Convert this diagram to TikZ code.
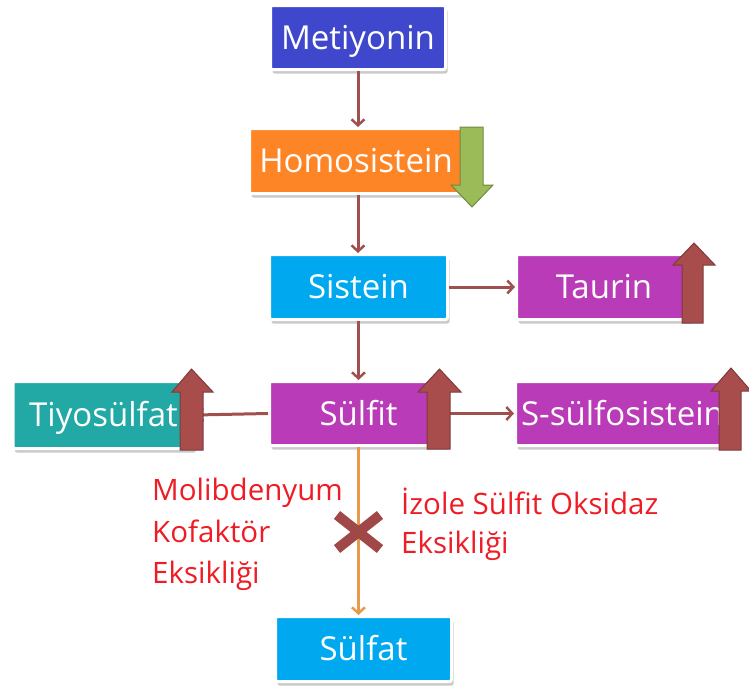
\documentclass[tikz,border=0pt]{standalone}
\usepackage{fontspec}
\setmainfont{Open Sans}
\usetikzlibrary{arrows.meta,shadows}
\definecolor{cMet}{HTML}{3F48CC}
\definecolor{cHomo}{HTML}{FD8526}
\definecolor{cBlue}{HTML}{00A8F0}
\definecolor{cPurp}{HTML}{B93BB8}
\definecolor{cTeal}{HTML}{22A9A5}
\definecolor{cConn}{HTML}{A0504F}
\definecolor{cOrangeLine}{HTML}{E89A4A}
\definecolor{cRedText}{HTML}{EE1C25}
\definecolor{cBlockRed}{HTML}{A84C4C}
\definecolor{cBlockRedEdge}{HTML}{7D3B3B}
\definecolor{cGreen}{HTML}{9BBB59}
\definecolor{cGreenEdge}{HTML}{71893F}
\definecolor{cX}{HTML}{A04848}
\begin{document}
\begin{tikzpicture}[x=1pt,y=-1pt,
  box/.style={draw=white, line width=3pt, rounded corners=2pt, text=white,
    font=\fontsize{33}{40}\selectfont, inner sep=0pt, text height=23.5pt, text depth=0pt,
    drop shadow={shadow xshift=2pt, shadow yshift=-4pt, opacity=0.35, fill=black!60}},
  conn/.style={draw=cConn, line width=3pt, -{Straight Barb[length=6pt,width=13pt,line width=2.5pt]}},
  oconn/.style={draw=cOrangeLine, line width=3pt, -{Straight Barb[length=6pt,width=13pt,line width=2.5pt]}},
  blockred/.style={fill=cBlockRed, draw=cBlockRedEdge, line width=1pt, line join=miter},
  blockgreen/.style={fill=cGreen, draw=cGreenEdge, line width=1pt, line join=miter},
  redtext/.style={text=cRedText, font=\fontsize{29.5}{36}\selectfont, inner sep=0pt, anchor=base west},
  xmark/.style={draw=cX, line width=10pt, line cap=butt}
]
\useasboundingbox (0,0) rectangle (749,688);

% boxes
\node[box, fill=cMet, minimum width=175pt, minimum height=64pt] (met) at (358,37.5) {Metiyonin};
\node[box, fill=cHomo, minimum width=213pt, minimum height=65pt] (homo) at (356,161) {Homosistein};
\node[box, fill=cBlue, minimum width=178pt, minimum height=65pt] (sis) at (358.5,287) {Sistein};
\node[box, fill=cPurp, minimum width=175pt, minimum height=65pt] (taurin) at (604,287) {Taurin};
\node[box, fill=cPurp, minimum width=178pt, minimum height=64pt] (sulfit) at (358.5,413.5) {Sülfit};
\node[box, fill=cTeal, minimum width=181pt, minimum height=67pt] (tiyo) at (103.5,415) {Tiyosülfat};
\node[box, fill=cPurp, minimum width=214pt, minimum height=64pt] (ssulfo) at (622.5,413.5) {S-sülfosistein};
\node[box, fill=cBlue, minimum width=176pt, minimum height=65pt] (sulfat) at (363.5,649) {Sülfat};

% connectors
\draw[conn] (met.south) -- (met.south |- homo.north);
\draw[conn] (homo.south -| met.south) -- (met.south |- sis.north);
\draw[conn] (sis.south) -- (sis.south |- sulfit.north);
\draw[conn] (sis.east) -- (taurin.west);
\draw[conn] (sulfit.west) -- (tiyo.east);
\draw[conn] (sulfit.east) -- (ssulfo.west);
\draw[oconn] (sulfit.south) -- (sulfit.south |- sulfat.north);

% cross mark
\draw[xmark] (337,515) -- (380,549);
\draw[xmark] (337,549) -- (380,515);

% red texts
\node[redtext] (mo1) at (152,500) {Molibdenyum};
\node[redtext] (mo2) at (152,542) {Kofaktör};
\node[redtext] (mo3) at (152,583) {Eksikliği};
\node[redtext] (iz1) at (401,514) {İzole Sülfit Oksidaz};
\node[redtext] (iz2) at (401,553) {Eksikliği};

% block arrows
\draw[blockgreen] (460,127) -- (460,185) -- (451,185) -- (472,207) -- (493,185) -- (483,185) -- (483,127) -- cycle;
\draw[blockred] (682,323) -- (682,265) -- (673,265) -- (694,243) -- (715,265) -- (703,265) -- (703,323) -- cycle;
\draw[blockred] (180,450) -- (180,392) -- (172,392) -- (191.5,369) -- (213,392) -- (203,392) -- (203,450) -- cycle;
\draw[blockred] (427,449) -- (427,392) -- (418,392) -- (439.5,369) -- (461,392) -- (450,392) -- (450,449) -- cycle;
\draw[blockred] (719,450) -- (719,391) -- (711,391) -- (731,368) -- (751,391) -- (741,391) -- (741,450) -- cycle;
\end{tikzpicture}
\end{document}
